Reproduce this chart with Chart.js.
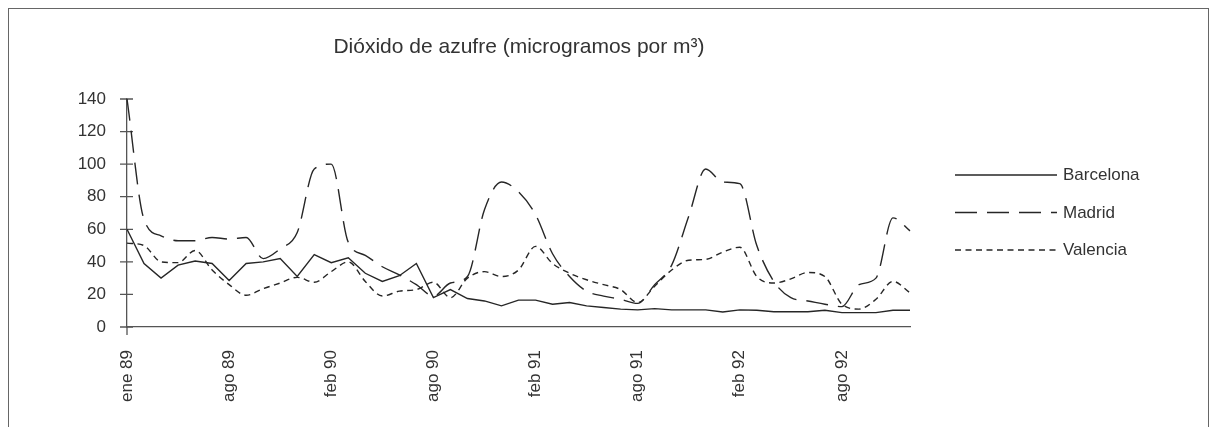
<!DOCTYPE html>
<html>
<head>
<meta charset="utf-8">
<script src="https://cdn.jsdelivr.net/npm/chart.js@4"></script>
<style>
  html, body { margin: 0; padding: 0; background: #fff; }
  #wrap { position: relative; width: 1219px; height: 427px; overflow: hidden; font-family: "Liberation Sans", Arial, sans-serif; color: #333; }
  #frame { position: absolute; left: 8px; top: 8px; width: 1201px; height: 440px; border: 1px solid #666; box-sizing: border-box; }
  #c { position: absolute; left: 0; top: 0; }
  #title { position: absolute; left: 519px; top: 34px; transform: translateX(-50%); white-space: nowrap; font-size: 21px; line-height: 24px; }
  .lg { position: absolute; left: 0; top: 0; }
  .lgtext { position: absolute; left: 1063px; font-size: 17px; line-height: 20px; white-space: nowrap; }
</style>
</head>
<body>
<div id="wrap">
  <div id="frame"></div>
  <canvas id="c" width="1219" height="427"></canvas>
  <div id="title">Dióxido de azufre (microgramos por m³)</div>
  <div id="legend"></div>
</div>
<script>
const titleText = 'Dióxido de azufre (microgramos por m³)';
const months = ['ene','feb','mar','abr','may','jun','jul','ago','sep','oct','nov','dic'];
// categories: ene 89, then mar 89 ... dic 92 (labels every 6th point)
const categories = ['ene 89',
  'mar 89','abr 89','may 89','jun 89','jul 89','ago 89','sep 89','oct 89','nov 89','dic 89',
  'ene 90','feb 90','mar 90','abr 90','may 90','jun 90','jul 90','ago 90','sep 90','oct 90','nov 90','dic 90',
  'ene 91','feb 91','mar 91','abr 91','may 91','jun 91','jul 91','ago 91','sep 91','oct 91','nov 91','dic 91',
  'ene 92','feb 92','mar 92','abr 92','may 92','jun 92','jul 92','ago 92','sep 92','oct 92','nov 92','dic 92'];
const labelEvery = 6;
const yTicks = [0, 20, 40, 60, 80, 100, 120, 140];

const barcelona = [60, 39, 30, 38, 40.5, 39, 28.5, 39, 40, 42,
  31, 44.5, 39.5, 42.5, 33, 28, 31.5, 39, 18, 23,
  17.5, 16, 13, 16.5, 16.5, 14, 15, 13, 12, 11,
  10.5, 11.3, 10.5, 10.5, 10.5, 9.2, 10.5, 10.3, 9.4, 9.4,
  9.4, 10.3, 8.8, 8.8, 8.8, 10.3, 10.3];
const madrid = [140, 66, 56, 53, 53, 55, 54, 55, 42, 48,
  58, 97, 100, 52, 44, 37, 32, 26, 19, 27,
  31, 72, 89, 83, 69, 45, 31, 22, 19, 17,
  14.5, 26, 38, 68, 97, 89, 88, 50, 28, 18,
  16, 14, 12.5, 26, 30, 67, 59];
const valencia = [51.5, 50, 40, 39.5, 47, 35, 26, 19.5, 23.5, 27,
  30.5, 27.5, 34, 40, 28, 19, 22, 23, 27.5, 18,
  30, 34, 31, 35, 49.5, 39, 33, 29, 26, 23,
  15, 25, 35, 41, 41.5, 46, 49, 31, 27, 29.5,
  33.5, 31, 14, 11, 17, 28, 21];

const seriesNames = ['Barcelona', 'Madrid', 'Valencia'];
const seriesDash = [[], [22, 10], [6, 4.5]];
const lineColor = '#262626';
const axisColor = '#555';

const datasets = [barcelona, madrid, valencia].map((d, i) => ({
  label: seriesNames[i],
  data: d,
  borderColor: lineColor,
  borderWidth: 1.4,
  borderDash: seriesDash[i],
  pointRadius: 0,
  pointHoverRadius: 0,
  tension: i === 0 ? 0 : 0.3,
  cubicInterpolationMode: i === 0 ? 'default' : 'monotone',
  fill: false,
  clip: 6
}));

const crossTicks = {
  id: 'crossTicks',
  beforeDatasetsDraw(chart) {
    const {ctx, chartArea, scales} = chart;
    const x = scales.x, y = scales.y;
    ctx.save();
    ctx.strokeStyle = axisColor;
    ctx.lineWidth = 1.3;
    ctx.beginPath();
    y.ticks.forEach((t, i) => {
      const py = y.getPixelForTick(i);
      ctx.moveTo(chartArea.left - 7, py);
      ctx.lineTo(chartArea.left + 6, py);
    });
    const px = x.getPixelForTick(0);
    ctx.moveTo(px, chartArea.bottom);
    ctx.lineTo(px, chartArea.bottom + 8);
    ctx.stroke();
    ctx.restore();
  }
};

const tickFont = { family: '"Liberation Sans", Arial, sans-serif', size: 17 };

new Chart(document.getElementById('c'), {
  type: 'line',
  data: { labels: categories, datasets },
  plugins: [crossTicks],
  options: {
    responsive: false,
    animation: false,
    events: [],
    layout: { padding: { left: 0, right: 309, top: 99, bottom: 0 } },
    plugins: { legend: { display: false }, title: { display: false }, tooltip: { enabled: false } },
    scales: {
      x: {
        type: 'category',
        offset: false,
        grid: { display: true, drawOnChartArea: false, drawTicks: false },
        border: { display: true, color: axisColor, width: 1.3 },
        ticks: {
          autoSkip: false,
          minRotation: 90,
          maxRotation: 90,
          padding: 23,
          color: '#333',
          font: tickFont,
          callback: function (v, i) { return i % labelEvery === 0 ? this.getLabelForValue(v) : ''; }
        },
        afterFit(scale) { scale.height = 100; }
      },
      y: {
        min: 0,
        max: 140,
        afterBuildTicks(scale) { scale.ticks = yTicks.map(v => ({ value: v })); },
        grid: { display: true, drawOnChartArea: false, drawTicks: false },
        border: { display: true, color: axisColor, width: 1.3 },
        ticks: { padding: 21, color: '#333', font: tickFont },
        afterFit(scale) { scale.width = 127; }
      }
    }
  }
});

// legend (HTML, real text)
const legend = document.getElementById('legend');
const svgNS = 'http://www.w3.org/2000/svg';
const svg = document.createElementNS(svgNS, 'svg');
svg.setAttribute('width', '1219'); svg.setAttribute('height', '427');
svg.setAttribute('class', 'lg');
const legendY0 = 175, legendStep = 37.5;
seriesNames.forEach((name, i) => {
  const yy = legendY0 + legendStep * i;
  const ln = document.createElementNS(svgNS, 'line');
  ln.setAttribute('x1', 955); ln.setAttribute('x2', 1057);
  ln.setAttribute('y1', yy); ln.setAttribute('y2', yy);
  ln.setAttribute('stroke', lineColor); ln.setAttribute('stroke-width', 1.4);
  if (seriesDash[i].length) ln.setAttribute('stroke-dasharray', seriesDash[i].join(' '));
  svg.appendChild(ln);
  const t = document.createElement('div');
  t.className = 'lgtext';
  t.style.top = (yy - 9.8) + 'px';
  t.textContent = name;
  legend.appendChild(t);
});
legend.appendChild(svg);
</script>
</body>
</html>
